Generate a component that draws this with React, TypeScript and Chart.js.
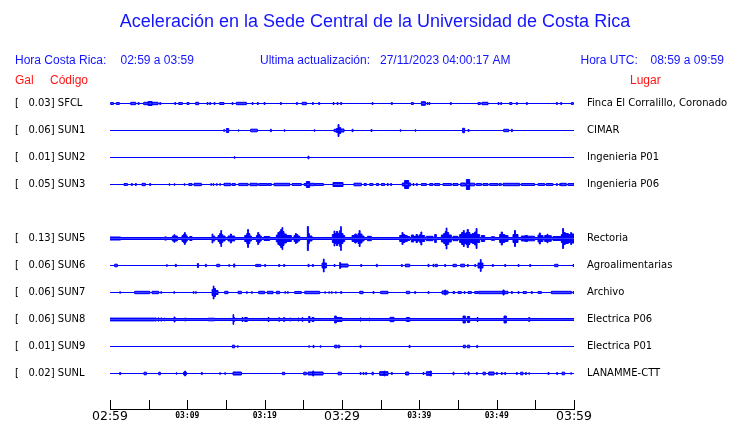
import React, { useEffect, useRef } from 'react';
import { Chart, registerables } from 'chart.js';

Chart.register(...registerables);

// ---------- data ----------
const titleText = 'Aceleración en la Sede Central de la Universidad de Costa Rica';
const localTimeRange = '02:59 a 03:59';
const utcTimeRange = '08:59 a 09:59';
const lastUpdate = '27/11/2023 04:00:17 AM';

const stationCodes = ['SFCL', 'SUN1', 'SUN2', 'SUN3', 'SUN5', 'SUN6', 'SUN7', 'SUN8', 'SUN9', 'SUNL'];
const placeNames = [
  'Finca El Corralillo, Coronado', 'CIMAR', 'Ingenieria P01', 'Ingenieria P06', 'Rectoria',
  'Agroalimentarias', 'Archivo', 'Electrica P06', 'Electrica P01', 'LANAMME-CTT',
];
const galValues = [0.03, 0.06, 0.01, 0.05, 0.13, 0.06, 0.06, 0.06, 0.01, 0.02];
// trace slot (row) of every station; slot 4 is empty
const rowSlots = [0, 1, 2, 3, 5, 6, 7, 8, 9, 10];
// background noise half-amplitude of every trace
const noiseFloor = [0, 0, 0, 0, 1, 0, 0, 1, 0, 0];

// minutes after 02:59
const xTickMinutes = [0, 10, 20, 30, 40, 50, 60];
const xTickLabels = ['02:59', '03:09', '03:19', '03:29', '03:39', '03:49', '03:59'];
const majorTickMinutes = [0, 30, 60];

// bursts: [start minute, duration minutes, half-amplitude]
const sfclEvents = [
  [0.09, 0.35, 1], [0.82, 0.39, 1], [2.68, 0.64, 1.2], [3.63, 0.13, 1], [4.36, 0.56, 1.2], [4.92, 0.52, 2],
  [5.44, 0.77, 1.2], [6.43, 0.13, 1], [8.37, 0.13, 1], [8.88, 0.48, 1], [9.96, 0.26, 1], [11.08, 0.39, 1.2],
  [12.55, 0.13, 1], [12.89, 0.13, 1], [13.45, 0.13, 1], [14.18, 0.56, 1], [15.78, 0.13, 1], [16.34, 1.29, 1.2],
  [18.37, 0.13, 1], [19.05, 0.13, 1], [19.92, 0.13, 1], [22.03, 0.13, 1], [24.1, 0.13, 1], [24.83, 0.56, 1.2],
  [26.17, 0.13, 1], [26.99, 0.13, 1], [28.84, 0.13, 1], [29.36, 0.13, 1], [29.83, 0.13, 1], [33.88, 0.13, 1],
  [36.38, 0.13, 1], [38.97, 0.26, 1], [40.26, 0.52, 1.8], [40.99, 0.13, 1], [41.25, 0.13, 1], [44.01, 0.13, 1],
  [47.59, 0.3, 1], [48.1, 0.78, 1.2], [50.17, 0.13, 1], [50.52, 0.13, 1], [51.68, 0.3, 1], [52.54, 0.13, 1],
  [53.84, 0.13, 1], [57.72, 0.13, 1], [58.28, 0.13, 1], [59.66, 0.25, 1],
];
const sun1Events = [
  [14.7, 0.13, 0.8], [15.05, 0.3, 2], [16.56, 0.13, 0.6], [18.19, 0.86, 1.3], [20.74, 0.13, 1.2], [22.5, 0.13, 0.7],
  [26.38, 0.13, 0.7], [28.97, 0.3, 1.2], [29.27, 0.22, 2], [29.49, 0.12, 6], [29.61, 0.22, 3], [29.83, 0.43, 1.5],
  [31.3, 0.13, 1.2], [33.75, 0.13, 1], [37.5, 0.13, 0.7], [39.44, 0.13, 0.7], [45.6, 0.26, 2.2], [46.3, 0.13, 1],
  [50.91, 0.64, 1.2], [51.9, 0.13, 1.2],
];
const sun2Events = [[16.04, 0.13, 0.7], [25.6, 0.13, 1.3]];
const sun3Events = [
  [1.82, 0.43, 1], [2.76, 0.13, 1], [3.28, 0.13, 1], [4.14, 0.43, 1.2], [5.13, 0.13, 1], [7.63, 0.13, 0.7],
  [8.28, 0.13, 0.7], [9.57, 0.13, 0.7], [10.18, 0.43, 1], [10.87, 0.94, 1.2], [13.02, 0.13, 0.8], [13.32, 0.13, 0.8],
  [13.75, 0.13, 0.8], [14.18, 0.13, 0.8], [14.74, 0.87, 1.2], [15.78, 0.43, 1], [16.64, 1.21, 1.1], [18.11, 0.94, 1.2],
  [19.23, 1.12, 1], [20.43, 0.44, 1], [21.21, 2.03, 1.2], [23.54, 1.2, 1], [25.09, 0.3, 1], [25.39, 0.43, 3],
  [25.91, 0.56, 1.2], [26.55, 1.04, 1], [28.84, 1.29, 2], [31.55, 0.95, 1.3], [32.85, 0.3, 1], [33.58, 0.43, 1],
  [34.44, 0.3, 1], [35.09, 0.43, 1], [35.86, 0.13, 1], [36.29, 0.13, 1], [37.8, 0.3, 1.5], [38.1, 0.52, 4],
  [38.62, 0.26, 1.5], [39.18, 0.13, 1], [39.61, 0.13, 1], [40.26, 0.65, 1], [41.34, 0.43, 1], [41.98, 0.65, 1],
  [43.06, 1.08, 1], [44.35, 0.65, 1], [45.35, 0.6, 1.5], [46.08, 0.43, 5], [46.51, 0.65, 1.3], [47.37, 0.65, 1],
  [48.23, 0.65, 1], [49.1, 1.07, 1], [50.3, 0.3, 1], [50.82, 2.15, 1.2], [53.19, 1.72, 1], [55.35, 0.86, 1],
  [56.42, 0.86, 1], [57.72, 0.13, 1], [58.15, 0.13, 1], [58.28, 0.73, 1.2], [59.22, 0.78, 1],
];
const sun5Events = [
  [0, 1.38, 1.5], [7.07, 0.22, 1.6], [8.06, 0.2, 2.5], [8.26, 0.15, 3.7], [8.41, 0.3, 2.5],
  [9.31, 0.22, 3], [9.53, 0.1, 4.5], [9.63, 0.1, 6], [9.73, 0.12, 4], [9.85, 0.15, 2.5], [10.31, 0.3, 2],
  [13.2, 0.1, 4.5], [13.3, 0.24, 2.5],
  [13.97, 0.21, 3], [14.18, 0.15, 5], [14.33, 0.1, 8], [14.43, 0.15, 4], [14.58, 0.3, 2.5],
  [15.26, 0.3, 2.5], [15.56, 0.14, 4.5], [15.7, 0.42, 2.5],
  [17.42, 0.26, 3], [17.68, 0.12, 5], [17.8, 0.1, 9], [17.9, 0.18, 5], [18.08, 0.2, 2.5],
  [18.93, 0.17, 3], [19.1, 0.13, 6], [19.23, 0.15, 4], [19.38, 0.19, 2.5], [19.92, 0.73, 2],
  [21.51, 0.2, 3.5], [21.71, 0.2, 6], [21.91, 0.16, 7], [22.07, 0.17, 9], [22.24, 0.1, 11], [22.34, 0.16, 7],
  [22.5, 0.3, 4.5], [22.8, 0.65, 3],
  [23.8, 0.17, 3], [23.97, 0.12, 5], [24.09, 0.2, 4], [24.29, 0.24, 2.5],
  [25.52, 0.13, 12], [25.65, 0.13, 5], [25.78, 0.34, 2.5],
  [28.75, 0.22, 4], [28.97, 0.1, 7.5], [29.07, 0.2, 5], [29.27, 0.2, 7], [29.47, 0.23, 5], [29.7, 0.13, 8],
  [29.83, 0.08, 12], [29.91, 0.22, 5], [30.13, 0.22, 3],
  [31.3, 0.35, 3], [31.65, 0.2, 4.5], [31.85, 0.22, 3], [32.07, 0.15, 5], [32.22, 0.12, 8], [32.34, 0.25, 4.5],
  [32.59, 0.26, 2.5], [33.28, 0.52, 2.2],
  [37.46, 0.3, 3], [37.76, 0.13, 6], [37.89, 0.25, 4], [38.14, 0.3, 3], [38.44, 0.31, 2],
  [38.97, 0.3, 3.5], [39.27, 0.3, 2], [39.57, 0.2, 4], [39.77, 0.28, 2.5], [40.05, 0.15, 4], [40.2, 0.12, 6.5],
  [40.32, 0.37, 3], [40.91, 0.86, 2.2], [41.98, 0.22, 4],
  [42.85, 0.3, 3.5], [43.15, 0.2, 5], [43.35, 0.12, 7], [43.47, 0.1, 10.5], [43.57, 0.22, 6], [43.79, 0.35, 3.5],
  [44.35, 0.65, 2.2],
  [45.22, 0.25, 4], [45.47, 0.22, 6], [45.69, 0.12, 8], [45.81, 0.23, 5], [46.04, 0.15, 6], [46.19, 0.15, 9],
  [46.34, 0.2, 6], [46.54, 0.3, 4], [46.84, 0.3, 5], [47.14, 0.2, 6.5], [47.34, 0.12, 10], [47.46, 0.34, 4],
  [48.02, 0.43, 3], [49.31, 0.43, 1.8],
  [50.39, 0.2, 4], [50.59, 0.15, 6.5], [50.74, 0.3, 4], [51.04, 0.43, 3],
  [52.11, 0.2, 4], [52.31, 0.12, 8], [52.43, 0.33, 4],
  [53.19, 0.5, 2.5], [53.69, 0.3, 3], [53.99, 0.92, 2.3],
  [55.35, 0.17, 3.5], [55.52, 0.13, 5.5], [55.65, 0.34, 3],
  [56.21, 0.3, 3], [56.51, 0.13, 4.2], [56.64, 0.43, 2.8], [57.28, 1.08, 2],
  [58.36, 0.17, 4], [58.53, 0.12, 10], [58.65, 0.22, 6], [58.87, 0.4, 5], [59.27, 0.3, 4], [59.57, 0.12, 6],
  [59.69, 0.31, 4.5],
];
const sun6Events = [
  [0.61, 0.34, 1.3], [7.29, 0.13, 0.8], [8.45, 0.13, 1.2], [11.3, 0.15, 2], [12.33, 0.13, 1.2], [13.8, 0.38, 1.2],
  [15.35, 0.13, 0.8], [16.0, 0.13, 1.6], [18.84, 0.3, 1.1], [19.2, 0.29, 1.1], [20.0, 0.13, 1], [21.81, 0.13, 1],
  [22.46, 0.13, 1], [25.61, 0.13, 1.2], [26.17, 0.13, 1], [27.42, 0.17, 2.5], [27.59, 0.1, 6.5], [27.69, 0.29, 2.5],
  [28.97, 0.13, 1], [29.7, 0.12, 3], [29.82, 0.96, 1.5], [32.42, 0.13, 1], [34.44, 0.13, 1.2], [37.67, 0.13, 1],
  [38.19, 0.56, 1.3], [41.12, 0.13, 1.2], [41.77, 0.13, 1.2], [42.07, 0.26, 1.2], [43.28, 0.13, 1], [44.35, 0.44, 1.2],
  [45.35, 0.51, 1.3], [46.21, 0.13, 1], [47.16, 0.13, 1], [47.59, 0.3, 2.5], [47.89, 0.1, 6], [47.99, 0.24, 2.5],
  [49.44, 0.13, 1], [51.04, 0.13, 1], [52.76, 0.13, 1], [54.27, 0.13, 1], [57.5, 0.43, 1.2], [59.87, 0.13, 1],
];
const sun7Events = [
  [1.25, 0.13, 0.7], [3.19, 1.94, 1.2], [5.44, 0.86, 1.2], [6.56, 0.13, 0.8], [8.24, 0.13, 0.8], [10.74, 0.13, 0.8],
  [11.04, 0.13, 0.8], [13.2, 0.15, 3], [13.35, 0.1, 6.5], [13.45, 0.2, 4], [13.65, 0.32, 2], [14.83, 0.43, 1.2],
  [16.56, 0.43, 1.2], [17.63, 0.13, 0.8], [18.28, 0.13, 0.8], [19.23, 0.77, 1.2], [20.35, 0.73, 1.2], [21.51, 0.43, 1.2],
  [22.59, 0.13, 0.8], [22.93, 0.13, 0.8], [23.88, 0.86, 1], [25.18, 1.93, 1.2], [27.76, 0.13, 0.7], [28.28, 0.13, 0.7],
  [28.62, 0.13, 0.7], [29.14, 0.13, 0.7], [29.83, 0.13, 1], [32.29, 0.43, 1.2], [34.01, 0.13, 1], [35.0, 0.95, 1.2],
  [38.32, 0.43, 1.2], [39.4, 0.13, 1], [41.12, 0.13, 1], [42.93, 0.35, 1.5], [43.28, 0.13, 2.5], [43.41, 0.3, 1.5],
  [44.35, 0.22, 1], [45.0, 0.43, 1], [45.78, 0.13, 1], [46.3, 0.43, 1], [47.16, 0.43, 1], [47.67, 3.15, 1.2],
  [50.82, 0.15, 2.5], [50.97, 0.5, 1.2], [51.9, 0.13, 1], [52.76, 0.13, 1], [53.41, 0.43, 1], [54.48, 0.13, 1],
  [55.35, 0.43, 1], [57.07, 2.59, 1.2], [59.87, 0.13, 1],
];
const sun8Events = [
  [0, 6.0, 1.4], [6.21, 0.13, 1.6], [6.56, 0.13, 1.6], [6.99, 0.13, 1.4], [8.28, 0.13, 2.5], [9.66, 0.13, 1.5],
  [12.68, 0.86, 1.3], [15.91, 0.08, 5], [15.99, 0.13, 2], [17.07, 0.13, 2], [17.42, 0.34, 2], [20.43, 0.13, 2],
  [21.81, 0.13, 1.8], [22.46, 0.13, 2], [23.24, 0.13, 1.5], [24.31, 0.13, 1.5], [24.83, 0.13, 1.8], [25.69, 0.17, 3],
  [26.12, 0.26, 2], [29.05, 0.22, 3.5], [29.27, 0.73, 2], [32.33, 0.13, 1.6], [33.49, 0.13, 1.4], [36.21, 0.52, 2.2],
  [38.32, 0.43, 2], [45.65, 0.3, 3.5], [46.21, 0.3, 3], [47.46, 0.13, 2], [50.95, 0.3, 3.5], [54.14, 0.13, 2],
];
const sun9Events = [
  [15.82, 0.3, 1.3], [16.47, 0.13, 0.7], [25.69, 0.13, 0.7], [26.25, 0.13, 1.1], [27.16, 0.13, 0.7], [29.05, 0.31, 1.3],
  [29.49, 0.21, 1.3], [32.33, 0.13, 1.1], [38.67, 0.13, 1.1], [45.69, 0.26, 1.3], [46.21, 0.3, 1.3], [47.42, 0.13, 1.1],
];
const sunlEvents = [
  [1.25, 0.13, 1.1], [4.4, 0.3, 1.3], [6.3, 0.21, 1.3], [8.54, 0.13, 0.7], [9.53, 0.13, 1.5], [9.66, 0.1, 2.5],
  [9.76, 0.11, 1.5], [11.81, 0.13, 1.1], [14.18, 0.13, 0.8], [14.83, 0.13, 0.8], [15.91, 1.08, 1.5], [22.29, 0.3, 1.2],
  [25.05, 0.34, 1.3], [25.61, 0.6, 1.5], [26.21, 0.13, 2.5], [26.34, 1.21, 1.5], [29.49, 0.43, 1.3], [32.33, 0.13, 1],
  [32.72, 0.13, 1], [33.06, 0.13, 1], [33.88, 0.17, 1.3], [34.87, 0.55, 1.8], [35.42, 0.1, 2.5], [35.52, 0.43, 1.8],
  [36.38, 0.13, 1], [38.23, 0.39, 1.5], [40.48, 0.13, 1], [40.91, 0.51, 1.8], [41.42, 0.13, 2.5], [44.35, 0.13, 1.3],
  [45.86, 0.13, 0.7], [46.3, 0.13, 1.5], [47.37, 0.13, 1], [48.23, 0.31, 1.3], [48.97, 0.69, 1.5], [49.96, 0.13, 1],
  [50.6, 0.13, 1], [51.04, 0.13, 1], [52.54, 0.13, 1], [53.1, 0.31, 1.3], [53.71, 0.13, 1], [54.14, 0.13, 0.7],
  [56.64, 0.13, 1], [57.76, 0.13, 1], [58.45, 0.34, 1.3], [59.57, 0.13, 0.7],
];
const stationEvents = [
  sfclEvents, sun1Events, sun2Events, sun3Events, sun5Events,
  sun6Events, sun7Events, sun8Events, sun9Events, sunlEvents,
];

// ---------- layout / style ----------
const ROW = 27; // value units between trace slots
const SPAN_MIN = 0;
const SPAN_MAX = 60;
const TRACE = '#0000ff';
const BLUE = '#1414ff';
const RED = '#ff1414';

function envelope(events: number[][], floor: number) {
  const sorted = [...events].sort((a, b) => a[0] - b[0]);
  const pts: { x: number; a: number }[] = [{ x: SPAN_MIN, a: floor }];
  for (const [s, d, a] of sorted) {
    pts.push({ x: s, a });
    pts.push({ x: Math.min(s + d, SPAN_MAX), a: floor });
  }
  pts.push({ x: SPAN_MAX, a: floor });
  return pts;
}

const headerPlugin = {
  id: 'headerText',
  afterDraw(chart: any) {
    const ctx = chart.ctx;
    ctx.save();
    ctx.textBaseline = 'middle';
    ctx.textAlign = 'left';
    ctx.font = '12px "Liberation Sans", Arial, sans-serif';
    ctx.fillStyle = BLUE;
    ctx.fillText('Hora Costa Rica:', 15, 61);
    ctx.fillText(localTimeRange, 120.5, 61);
    ctx.fillText('Ultima actualización:', 260, 61);
    ctx.fillText(lastUpdate, 380, 61);
    ctx.fillText('Hora UTC:', 580.5, 61);
    ctx.fillText(utcTimeRange, 650.5, 61);
    ctx.fillStyle = RED;
    ctx.fillText('Gal', 15, 81);
    ctx.fillText('Código', 50, 81);
    ctx.fillText('Lugar', 630, 81);
    ctx.restore();
  },
};

const tickMarkPlugin = {
  id: 'upTicks',
  afterDraw(chart: any) {
    const xs = chart.scales.x;
    const bottom = chart.chartArea.bottom;
    const ctx = chart.ctx;
    ctx.save();
    ctx.strokeStyle = '#000';
    ctx.lineWidth = 1;
    ctx.beginPath();
    xs.ticks.forEach((t: any) => {
      const px = Math.round(xs.getPixelForValue(t.value)) + 0.5;
      ctx.moveTo(px, bottom - 9);
      ctx.lineTo(px, bottom + 0.5);
    });
    ctx.stroke();
    ctx.restore();
  },
};

export default function App() {
  const ref = useRef<HTMLCanvasElement | null>(null);

  useEffect(() => {
    if (!ref.current) return;
    const datasets: any[] = [];
    stationEvents.forEach((ev, i) => {
      const base = rowSlots[i] * ROW;
      const pts = envelope(ev, noiseFloor[i]);
      const common = {
        stepped: true,
        borderColor: TRACE,
        backgroundColor: TRACE,
        borderWidth: 1,
        pointRadius: 0,
        fill: { value: base },
        xAxisID: 'x',
        yAxisID: 'y',
      };
      datasets.push({ ...common, label: stationCodes[i] + ' +', data: pts.map((p) => ({ x: p.x, y: base - p.a })) });
      datasets.push({ ...common, label: stationCodes[i] + ' -', data: pts.map((p) => ({ x: p.x, y: base + p.a })) });
    });

    const rowTicks = rowSlots.map((r) => ({ value: r * ROW }));
    const yMin = -33.5;
    const yMax = 10 * ROW + 35.5;

    const zeroPad = (s: any) => {
      s.paddingTop = 0;
      s.paddingBottom = 0;
    };

    const chart = new Chart(ref.current, {
      type: 'line',
      data: { datasets },
      plugins: [headerPlugin, tickMarkPlugin],
      options: {
        animation: false,
        responsive: false,
        events: [],
        layout: { padding: { left: 15, right: 5, top: 0, bottom: 0 } },
        plugins: {
          legend: { display: false },
          tooltip: { enabled: false },
          title: {
            display: true,
            text: titleText,
            color: BLUE,
            font: { family: '"Liberation Sans", Arial, sans-serif', size: 18, weight: 'normal', lineHeight: 1.2 },
            padding: { top: 11, bottom: 37.4 },
          },
        },
        scales: {
          x: {
            type: 'linear',
            position: 'bottom',
            min: SPAN_MIN,
            max: SPAN_MAX,
            grid: { display: false, drawTicks: false },
            border: { display: true, color: '#000', width: 1 },
            afterFit: (s: any) => {
              s.height = 14;
              s.paddingLeft = 0;
              s.paddingRight = 0;
            },
            ticks: {
              stepSize: 5,
              autoSkip: false,
              maxRotation: 0,
              minRotation: 0,
              padding: 0.5,
              color: '#000',
              callback: (v: any) => {
                const k = xTickMinutes.indexOf(Number(v));
                return k >= 0 ? xTickLabels[k] : '';
              },
              font: (c: any) => {
                const v = c.tick ? c.tick.value : 0;
                return majorTickMinutes.includes(v)
                  ? { family: '"DejaVu Sans"', size: 12.5, lineHeight: 1.2 }
                  : { family: '"DejaVu Sans Mono"', size: 8, weight: 'bold', lineHeight: 1.5 };
              },
            },
          },
          y: {
            type: 'linear',
            position: 'left',
            reverse: true,
            min: yMin,
            max: yMax,
            grid: { display: false, drawTicks: false },
            border: { display: false },
            afterBuildTicks: (s: any) => {
              s.ticks = rowTicks.map((t) => ({ ...t }));
            },
            afterFit: (s: any) => {
              s.width = 95;
              zeroPad(s);
            },
            ticks: {
              crossAlign: 'far',
              padding: 0,
              color: '#000',
              font: { family: '"DejaVu Sans"', size: 10 },
              callback: (_v: any, i: number) => `[   ${galValues[i].toFixed(2)}] ${stationCodes[i]}`,
            },
          },
          y2: {
            type: 'linear',
            position: 'right',
            reverse: true,
            min: yMin,
            max: yMax,
            grid: { display: false, drawTicks: false },
            border: { display: false },
            afterBuildTicks: (s: any) => {
              s.ticks = rowTicks.map((t) => ({ ...t }));
            },
            afterFit: (s: any) => {
              s.width = 161;
              zeroPad(s);
            },
            ticks: {
              padding: 13,
              color: '#000',
              font: { family: '"DejaVu Sans"', size: 10 },
              callback: (_v: any, i: number) => placeNames[i],
            },
          },
        },
      } as any,
    });
    return () => chart.destroy();
  }, []);

  return (
    <div style={{ position: 'fixed', left: 0, top: 0, width: 740, height: 423, background: '#fff' }}>
      <canvas ref={ref} width={740} height={423} style={{ display: 'block' }} />
    </div>
  );
}
